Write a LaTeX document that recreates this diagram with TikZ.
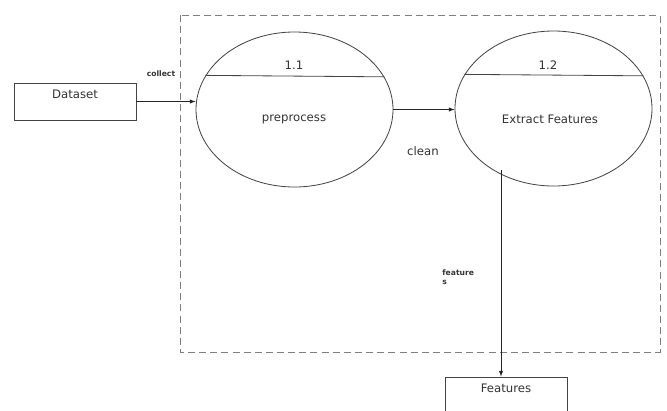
\documentclass[tikz,border=0pt]{standalone}
\usepackage{fontspec}
\setmainfont{DejaVu Sans}
\usetikzlibrary{shapes.geometric,arrows}

\definecolor{txtgray}{HTML}{333333}
\definecolor{linegray}{HTML}{444444}

\begin{document}
\begin{tikzpicture}[x=0.03cm,y=-0.03cm,line width=0.7pt,
    proc/.style={draw=linegray,ellipse,minimum width=5.91cm,minimum height=4.65cm,inner sep=0pt},
    ext/.style={draw=linegray,rectangle,minimum width=3.66cm,minimum height=1.11cm,
                text height=7pt,text depth=11.6pt,font=\fontsize{10}{12}\selectfont,text=txtgray},
    flow/.style={draw=black!85,-latex},
    tag/.style={font=\fontsize{6.5}{8}\selectfont\bfseries,text=txtgray,inner sep=0pt},
    lbl/.style={font=\fontsize{10}{12}\selectfont,text=txtgray,inner sep=0pt}]
                \useasboundingbox (0,0) rectangle (667,410);
                \clip (0,0) rectangle (667,410);
                % system boundary
                \draw[gray,dash pattern=on 6pt off 3.5pt] (180,15) rectangle (660,352);
                % external entities
                \node[ext] (data) at (75,101.5) {Dataset};
                \node[ext] (feat) at (506,395.5) {Features};
                % processes
                \node[proc] (p1) at (294.5,109.5) {};
                \node[proc] (p2) at (553.5,108.5) {};
                \draw[linegray] (p1.159.5) -- (p1.20.5);
                \draw[linegray] (p2.159.5) -- (p2.20.5);
                \node[lbl] (n1) at (294,65) {1.1};
                \node[lbl] (n2) at (548,65) {1.2};
                \node[lbl] (t1) at (294,119) {preprocess};
                \node[lbl] (t2) at (550,119) {Extract Features};
                % flows
                \draw[flow] (data.east) -- (data.east -| p1.west);
                \draw[flow] (p1.east) -- (p1.east -| p2.west);
                \coordinate (fo) at (501,170);
                \draw[flow] (fo) -- (fo |- feat.north);
                \node[tag] (collect) at (161,74) {collect};
                \node[lbl] (clean) at (423,151) {clean};
                \node[tag,anchor=west,align=left] (fs) at (442,277) {feature\\s};
            \end{tikzpicture}
\end{document}
